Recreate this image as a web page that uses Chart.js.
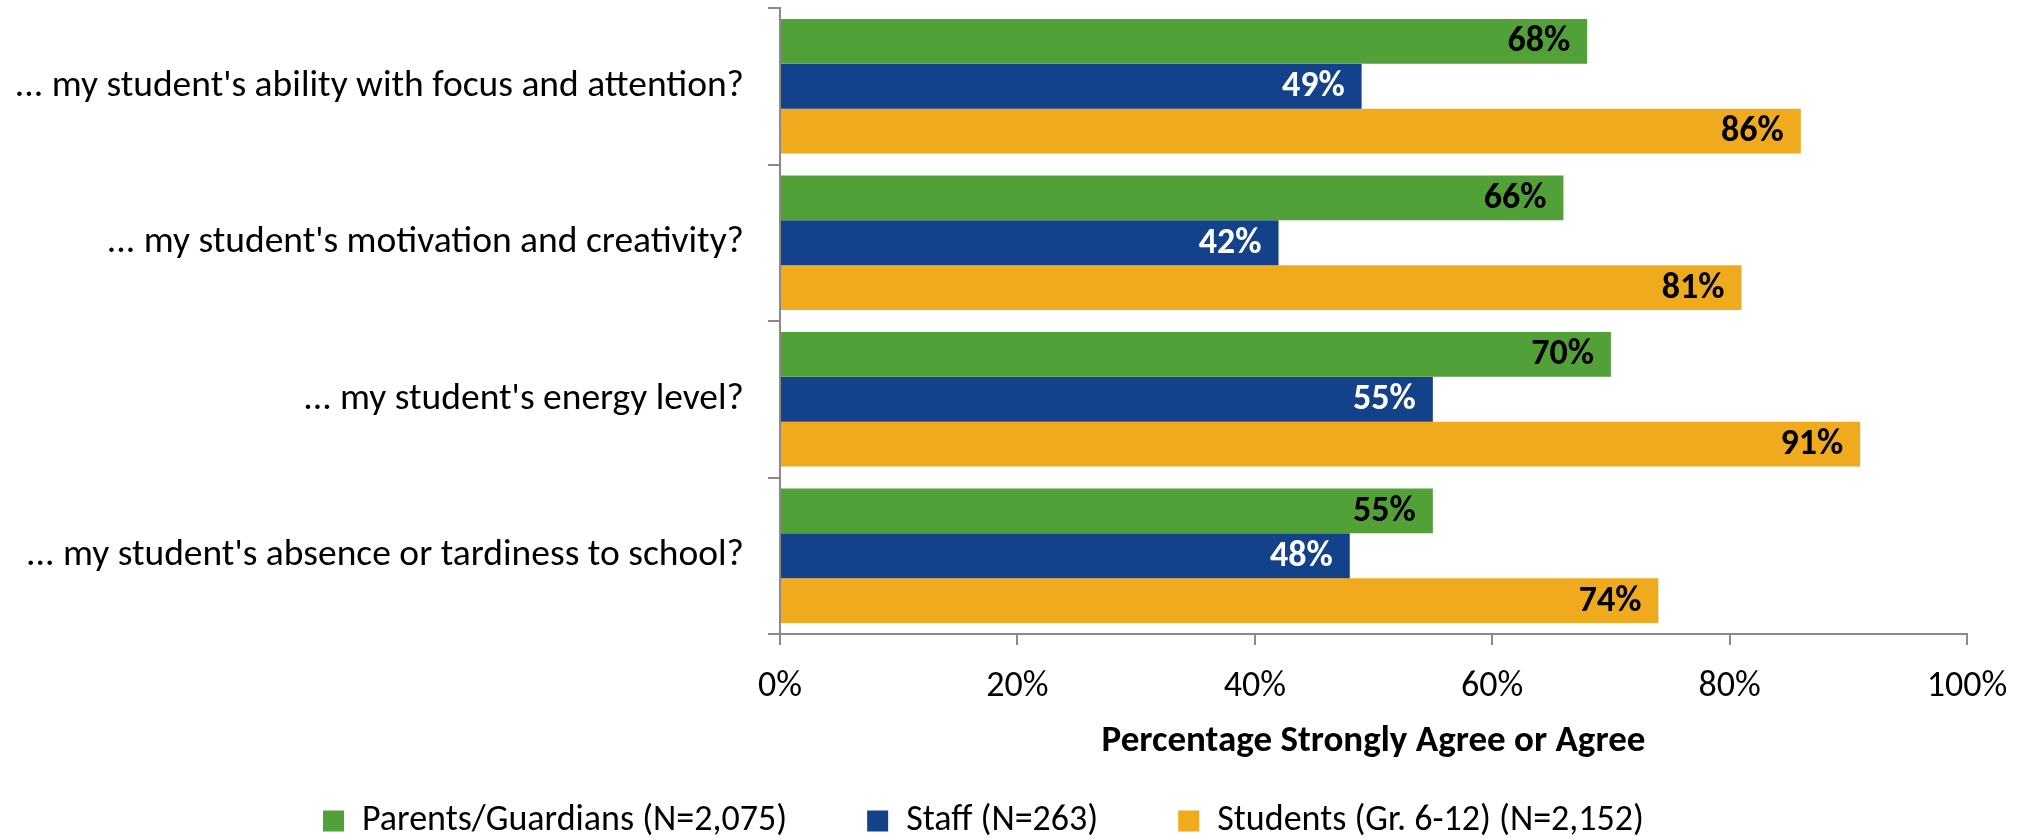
<!DOCTYPE html>
<html>
<head>
<meta charset="utf-8">
<script src="https://cdn.jsdelivr.net/npm/chart.js@4.4.1/dist/chart.umd.min.js"></script>
<style>
  html, body { margin: 0; padding: 0; background: #fff; }
  #wrap { width: 2028px; height: 839px; position: relative; }
</style>
</head>
<body>
<div id="wrap"><canvas id="surveyChart"></canvas></div>
<script>
// categories (y axis) and the three series
const categories = [
    "... my student's ability with focus and attention?",
    "... my student's motivation and creativity?",
    "... my student's energy level?",
    "... my student's absence or tardiness to school?"
];
const parentsValues = [68, 66, 70, 55];
const staffValues = [49, 42, 55, 48];
const studentsValues = [86, 81, 91, 74];
const seriesNames = ['Parents/Guardians (N=2,075)', 'Staff (N=263)', 'Students (Gr. 6-12) (N=2,152)'];
const tickValues = [0, 20, 40, 60, 80, 100];
const axisTitle = 'Percentage Strongly Agree or Agree';

const FONT = 'Carlito, Lato, sans-serif';
const axisGray = '#8a8a8a';

// value labels drawn inside the end of each bar
const barLabels = {
    id: 'barLabels',
    afterDatasetsDraw(chart) {
        const ctx = chart.ctx;
        ctx.save();
        ctx.font = 'bold 36px ' + FONT;
        ctx.textAlign = 'right';
        ctx.textBaseline = 'middle';
        chart.data.datasets.forEach((ds, i) => {
            const meta = chart.getDatasetMeta(i);
            meta.data.forEach((bar, j) => {
                ctx.fillStyle = ds.labelColor;
                ctx.fillText(ds.data[j] + '%', bar.x - 17, bar.y + 1);
            });
        });
        ctx.restore();
    }
};

const ctx = document.getElementById('surveyChart').getContext('2d');
const chart = new Chart(ctx, {
    type: 'bar',
    data: {
        labels: categories,
        datasets: [{
            label: seriesNames[0],
            data: parentsValues,
            backgroundColor: '#52a138',
            labelColor: '#000000'
        }, {
            label: seriesNames[1],
            data: staffValues,
            backgroundColor: '#13428a',
            labelColor: '#ffffff'
        }, {
            label: seriesNames[2],
            data: studentsValues,
            backgroundColor: '#f0aa1e',
            labelColor: '#000000'
        }]
    },
    plugins: [barLabels],
    options: {
        indexAxis: 'y',
        responsive: true,
        maintainAspectRatio: false,
        animation: false,
        categoryPercentage: 0.86,
        barPercentage: 1.0,
        layout: {
            padding: { top: 8, right: 61, left: 0, bottom: 0 }
        },
        scales: {
            x: {
                min: 0,
                max: 100,
                afterBuildTicks: (scale) => {
                    scale.ticks = tickValues.map(v => ({ value: v }));
                },
                afterFit: (scale) => { scale.height = 89; },
                ticks: {
                    color: '#000',
                    font: { family: FONT, size: 36 },
                    padding: 20,
                    callback: (v) => v + '%'
                },
                grid: {
                    drawOnChartArea: false,
                    tickLength: 11,
                    color: axisGray,
                    lineWidth: 2
                },
                border: { display: true, color: axisGray, width: 2 },
                title: {
                    display: true,
                    text: axisTitle,
                    color: '#000',
                    font: { family: FONT, size: 37, weight: 'bold' },
                    padding: { top: 0, bottom: -41 }
                }
            },
            y: {
                afterFit: (scale) => {
                    scale.width = 780;
                    scale.paddingTop = 0;
                    scale.paddingBottom = 0;
                },
                ticks: {
                    color: '#000',
                    font: { family: FONT, size: 37.5 },
                    padding: 24
                },
                grid: {
                    drawOnChartArea: false,
                    tickLength: 12,
                    color: axisGray,
                    lineWidth: 2
                },
                border: { display: true, color: axisGray, width: 2 }
            }
        },
        plugins: {
            tooltip: { enabled: false },
            legend: {
                position: 'bottom',
                maxHeight: 116,
                labels: {
                    color: '#000',
                    font: { family: FONT, size: 36 },
                    boxWidth: 21,
                    boxHeight: 21,
                    padding: 80
                }
            }
        }
    }
});
</script>
</body>
</html>
